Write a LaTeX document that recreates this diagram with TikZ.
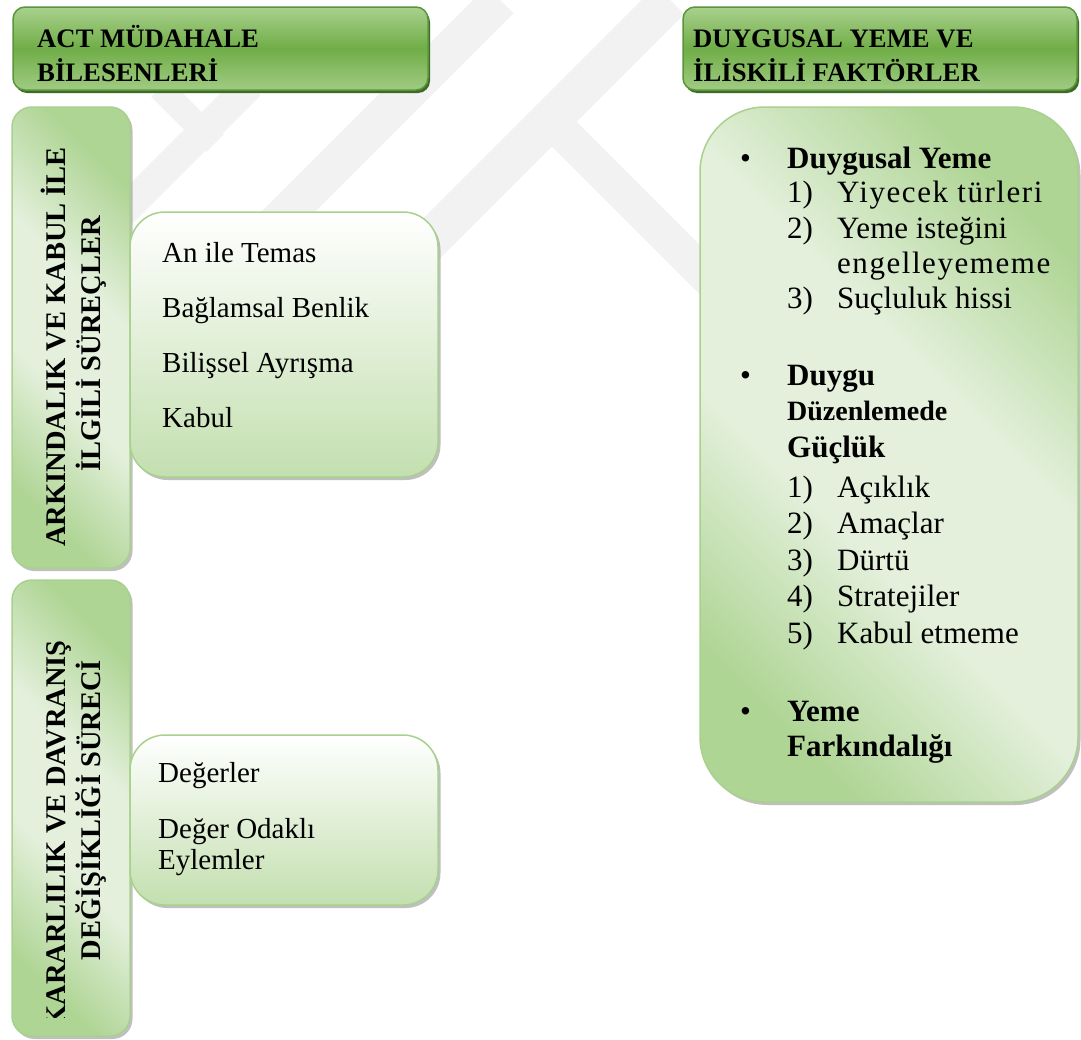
\documentclass[tikz,border=0pt]{standalone}
\usepackage{fontspec}
\setmainfont{Liberation Serif}
\usetikzlibrary{shadows}
\definecolor{gLight}{HTML}{A9D18E}
\definecolor{gSide}{HTML}{AFD595}
\definecolor{gPale}{HTML}{E4F0DC}
\definecolor{gMid}{HTML}{C3DFAF}
\definecolor{gAcc}{HTML}{70AD47}
\definecolor{gDark}{HTML}{5A9639}
\definecolor{gShadow}{HTML}{3E6B27}
\definecolor{wmark}{HTML}{F2F2F2}
\pgfdeclareverticalshading{diagsh}{100bp}{color(0bp)=(gSide); color(25bp)=(gSide); color(42bp)=(gPale); color(58bp)=(gPale); color(75bp)=(gSide); color(100bp)=(gSide)}
\begin{document}
\begin{tikzpicture}[x=1pt,y=-1pt,
  hdrbox/.style={rounded corners=12pt, draw=gDark, line width=1.5pt,
    top color=gLight, bottom color=gLight!85!gAcc, middle color=gAcc,
    inner sep=0pt,
    drop shadow={shadow xshift=2pt, shadow yshift=-3pt, fill=gShadow, opacity=1}},
  sidebox/.style={rounded corners=20pt, draw=gLight, line width=1.5pt,
    shade, shading=diagsh, shading angle=-45,
    inner sep=0pt,
    drop shadow={shadow xshift=2.5pt, shadow yshift=-3pt, fill=black!45, opacity=.55}},
  bigbox/.style={sidebox, rounded corners=65pt},
  innerbox/.style={rounded corners=35pt, draw=gLight, line width=1.5pt,
    top color=white, bottom color=gMid, inner sep=0pt,
    drop shadow={shadow xshift=2.5pt, shadow yshift=-3pt, fill=black!45, opacity=.55}},
  hdrtxt/.style={anchor=base west, inner sep=0pt, font=\fontsize{26.7}{32}\selectfont\bfseries},
  vtxt/.style={rotate=90, inner sep=0pt, font=\fontsize{28.5}{34}\selectfont\bfseries},
  itxt/.style={anchor=base west, inner sep=0pt, font=\fontsize{29}{33}\selectfont},
  rtxt/.style={anchor=base west, inner sep=0pt, font=\fontsize{31}{35}\selectfont},
  rwide/.style={rtxt, font=\fontsize{31}{35}\selectfont\addfontfeature{LetterSpace=5}},
  rbold/.style={anchor=base west, inner sep=0pt, font=\fontsize{31}{35}\selectfont\bfseries},
  wmband/.style={draw=wmark, line cap=butt}
]
\useasboundingbox (0,0) rectangle (1081,1039);
\fill[white] (0,0) rectangle (1081,1039);

% faint background watermark
\draw[wmband, line width=30pt] (120,215) -- (250,85);
\draw[wmband, line width=38pt] (260,240) -- (500,0);
\draw[wmband, line width=40pt] (400,270) -- (670,0);
\draw[wmband, line width=25pt] (160,88) -- (215,143);
\draw[wmband, line width=35pt] (560,130) -- (720,290);

% left column boxes
\node[sidebox, minimum width=118pt, minimum height=461pt] (sideA) at (71,337.5) {};
\node[sidebox, minimum width=118pt, minimum height=456pt] (sideB) at (71,808) {};

% inner boxes
\node[innerbox, minimum width=308pt, minimum height=265pt] (innA) at (284,344.5) {};
\node[innerbox, minimum width=308pt, minimum height=170pt] (innB) at (284,820) {};

% headers
\node[hdrbox, minimum width=415pt, minimum height=83pt] (hdrA) at (220.5,48.5) {};
\node[hdrbox, minimum width=394pt, minimum height=83pt] (hdrB) at (880,48.5) {};

% right big box
\node[bigbox, minimum width=378pt, minimum height=695pt] (big) at (889,454.5) {};

% header texts
\node[hdrtxt] (hA1) at (37,47) {ACT MÜDAHALE};
\node[hdrtxt] (hA2) at (37,81) {BİLESENLERİ};
\node[hdrtxt] (hB1) at (693,47) {DUYGUSAL YEME VE};
\node[hdrtxt] (hB2) at (693,81) {İLİSKİLİ FAKTÖRLER};

% vertical texts
\node[vtxt, anchor=base] (vA1) at (65,347) {ARKINDALIK VE KABUL İLE};
\node[vtxt, anchor=base] (vA2) at (100,344) {İLGİLİ SÜREÇLER};
\begin{scope}
  \clip (12,580) rectangle (130,1017);
  \node[vtxt, anchor=base east] (vB1) at (65,640) {KARARLILIK VE DAVRANIŞ};
\end{scope}
\node[vtxt, anchor=base] (vB2) at (100,810) {DEĞİŞİKLİĞİ SÜRECİ};

% inner box texts
\node[itxt] (i1) at (162,262) {An ile Temas};
\node[itxt] (i2) at (162,317) {Bağlamsal Benlik};
\node[itxt] (i3) at (162,372) {Bilişsel Ayrışma};
\node[itxt] (i4) at (162,427) {Kabul};
\node[itxt] (j1) at (158,782) {Değerler};
\node[itxt] (j2) at (158,838) {Değer Odaklı};
\node[itxt] (j3) at (158,869) {Eylemler};

% right box texts
\node[rtxt] (b1) at (740,168) {•};
\node[rbold] (r1) at (787,168) {Duygusal Yeme};
\node[rtxt] (n1) at (787,202) {1)};
\node[rwide] (t1) at (837,202) {Yiyecek türleri};
\node[rtxt] (n2) at (787,238) {2)};
\node[rtxt] (t2) at (837,238) {Yeme isteğini};
\node[rwide] (t2b) at (837,273) {engelleyememe};
\node[rtxt] (n3) at (787,308) {3)};
\node[rtxt] (t3) at (837,308) {Suçluluk hissi};

\node[rtxt] (b2) at (740,385) {•};
\node[rbold] (r2) at (787,385) {Duygu};
\node[anchor=base west, inner sep=0pt, font=\fontsize{28}{33}\selectfont\bfseries] (r2b) at (787,420) {Düzenlemede};
\node[rbold] (r2c) at (787,457) {Güçlük};
\node[rtxt] (m1) at (787,497) {1)};
\node[rtxt] (s1) at (837,497) {Açıklık};
\node[rtxt] (m2) at (787,533) {2)};
\node[rtxt] (s2) at (837,533) {Amaçlar};
\node[rtxt] (m3) at (787,570) {3)};
\node[rtxt] (s3) at (837,570) {Dürtü};
\node[rtxt] (m4) at (787,606) {4)};
\node[rtxt] (s4) at (837,606) {Stratejiler};
\node[rtxt] (m5) at (787,643) {5)};
\node[rtxt] (s5) at (837,643) {Kabul etmeme};

\node[rtxt] (b3) at (740,721) {•};
\node[rbold] (r3) at (787,721) {Yeme};
\node[rbold] (r3b) at (787,756) {Farkındalığı};
\end{tikzpicture}
\end{document}
